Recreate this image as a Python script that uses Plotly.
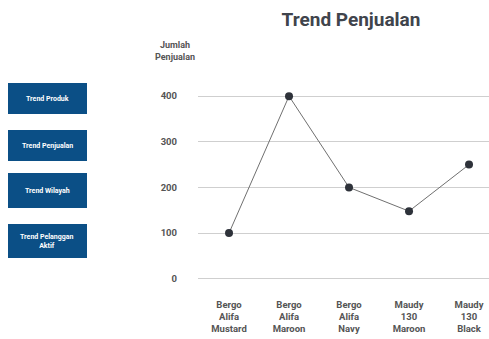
import plotly.graph_objects as go

# ---- data ----
products = ["Bergo<br>Alifa<br>Mustard", "Bergo<br>Alifa<br>Maroon", "Bergo<br>Alifa<br>Navy",
            "Maudy<br>130<br>Maroon", "Maudy<br>130<br>Black"]
sales = [100, 400, 200, 148, 250]
y_ticks = [0, 100, 200, 300, 400]
buttons = ["Trend Produk", "Trend Penjualan", "Trend Wilayah", "Trend Pelanggan<br>Aktif"]

W, H = 489, 339
L, R, T, B = 198, 0, 87, 58
PW, PH = W - L - R, H - T - B

def px(x):
    return (x - L) / PW

def py(y):
    return (H - B - y) / PH

fig = go.Figure()
fig.add_trace(go.Scatter(
    x=products, y=sales, mode="lines+markers",
    line=dict(color="#707070", width=1),
    marker=dict(color="#2e323a", size=8),
    cliponaxis=False, hoverinfo="skip"))

shapes = []
annotations = []
btn_boxes = [(83, 114), (130, 161), (173, 208), (224, 258)]
for label, (y0, y1) in zip(buttons, btn_boxes):
    shapes.append(dict(type="rect", xref="paper", yref="paper",
                       x0=px(8), x1=px(87), y0=py(y1), y1=py(y0),
                       fillcolor="#0b4f86", line=dict(width=0), layer="above"))
    annotations.append(dict(xref="paper", yref="paper", x=px(47.5), y=py((y0 + y1) / 2),
                            text="<b>" + label + "</b>", showarrow=False,
                            font=dict(family="Roboto", size=7, color="white"),
                            xanchor="center", yanchor="middle"))

annotations.append(dict(xref="paper", yref="paper", x=px(175), y=py(51),
                        text="<b>Jumlah<br>Penjualan</b>", showarrow=False,
                        font=dict(family="Roboto", size=9, color="#555555"),
                        xanchor="center", yanchor="middle"))

fig.update_layout(
    width=W, height=H,
    margin=dict(l=L, r=R, t=T, b=B, pad=0),
    paper_bgcolor="white", plot_bgcolor="white",
    showlegend=False,
    title=dict(text="<b>Trend Penjualan</b>", xref="container", x=351 / W, xanchor="center",
               yref="container", y=1 - 19 / H, yanchor="middle",
               font=dict(family="Roboto", size=19, color="#40444c")),
    xaxis=dict(type="category", range=[-0.517, 4.333], showgrid=False, zeroline=False,
               showline=False, ticks="",
               tickfont=dict(family="Roboto", size=9.5, color="#555555", weight="bold"),
               ticklabelstandoff=16),
    yaxis=dict(range=[-5, 420], tickvals=y_ticks, showgrid=True, gridcolor="#cfcfcf",
               gridwidth=1, zeroline=False, showline=False, ticks="",
               tickfont=dict(family="Roboto", size=9.5, color="#555555", weight="bold"),
               ticklabelstandoff=20),
    shapes=shapes, annotations=annotations,
    font=dict(family="Roboto"),
)

fig.write_html("out.html")
